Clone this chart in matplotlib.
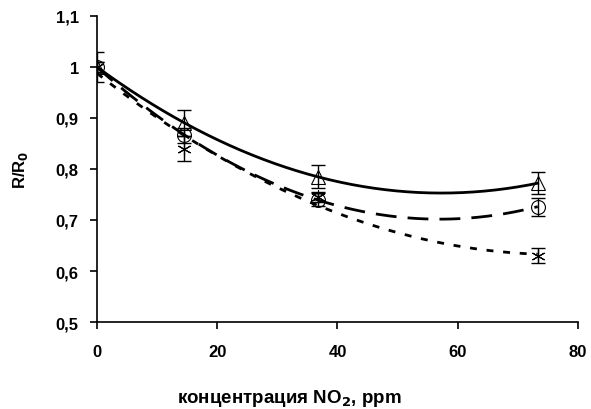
import numpy as np
import matplotlib.pyplot as plt

plt.rcParams['font.family'] = ['Liberation Sans', 'DejaVu Sans']
plt.rcParams['font.weight'] = 'bold'

# data
conc = [0, 14.5, 36.7, 73.3]

tri = [1.0, 0.89, 0.785, 0.772]
tri_err = [0.03, 0.025, 0.023, 0.022]

circ = [1.0, 0.866, 0.74, 0.726]
circ_err = [0.01, 0.015, 0.012, 0.018]

star = [1.0, 0.84, 0.745, 0.63]
star_err = [0.01, 0.025, 0.01, 0.015]

yticks = [0.5, 0.6, 0.7, 0.8, 0.9, 1.0, 1.1]
ytick_labels = ['0,5', '0,6', '0,7', '0,8', '0,9', '1', '1,1']

fig = plt.figure(figsize=(5.91, 4.10), dpi=100)
ax = fig.add_axes([0.164, 0.212, 0.814, 0.747])

xs = np.linspace(0, max(conc), 200)
series = [
    (tri, tri_err, '^', '-'),
    (circ, circ_err, 'o', (0, (7.5, 4))),
    (star, star_err, (6, 2, 0), (0, (2.5, 3.5))),
]
for vals, err, mk, ls in series:
    # quadratic trendline, like the spreadsheet one
    fit = np.polyfit(conc, vals, 2)
    ax.plot(xs, np.polyval(fit, xs), color='black', lw=2, ls=ls)
    ax.errorbar(conc, vals, yerr=err, fmt='none', ecolor='black', elinewidth=1,
                capsize=5, capthick=1)
    ax.plot(conc, vals, ls='none', marker=mk, markersize=10,
            markerfacecolor='none', markeredgecolor='black', markeredgewidth=0.8)

ax.set_xlim(0, 80)
ax.set_ylim(0.5, 1.1)
ax.set_xticks([0, 20, 40, 60, 80])
ax.set_yticks(yticks)
ax.set_yticklabels(ytick_labels)
ax.tick_params(labelsize=12, width=1.2, length=5, direction='out')
ax.tick_params(axis='x', pad=11)
ax.tick_params(axis='y', pad=8)
ax.spines['top'].set_visible(False)
ax.spines['right'].set_visible(False)
ax.spines['left'].set_linewidth(1.2)
ax.spines['bottom'].set_linewidth(1.2)
for lbl in ax.get_xticklabels() + ax.get_yticklabels():
    lbl.set_fontweight('bold')

ax.set_xlabel('концентрация NO$_2$, ppm', fontsize=13.5, fontweight='bold')
ax.set_ylabel('R/R$_0$', fontsize=12, fontweight='bold')
ax.xaxis.set_label_coords(0.40, -0.212)
ax.yaxis.set_label_coords(-0.139, 0.5)

fig.savefig('out.png', dpi=100)
